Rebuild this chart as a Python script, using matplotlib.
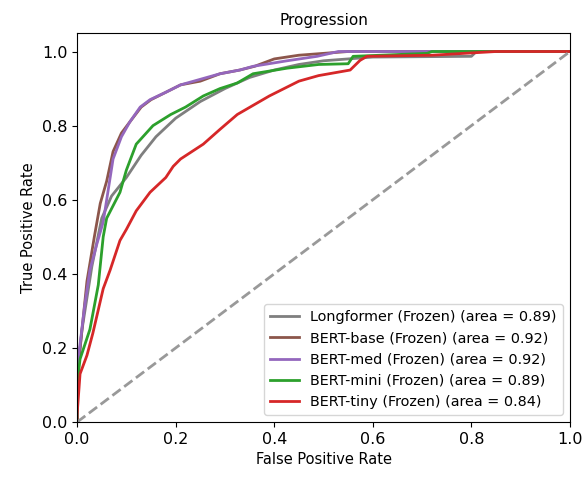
import matplotlib
matplotlib.use("Agg")
import matplotlib.pyplot as plt

# ROC points
longformer_fpr = [0.0, 0.0, 0.01, 0.03, 0.05, 0.07, 0.1, 0.13, 0.16, 0.2, 0.25, 0.3, 0.35, 0.4, 0.45, 0.5, 0.55, 0.6, 0.8, 0.81, 1.0]
longformer_tpr = [0.0, 0.12, 0.25, 0.42, 0.55, 0.61, 0.66, 0.72, 0.77, 0.82, 0.865, 0.90, 0.93, 0.95, 0.965, 0.975, 0.98, 0.985, 0.987, 1.0, 1.0]

base_fpr = [0.0, 0.0, 0.01, 0.02, 0.035, 0.047, 0.06, 0.073, 0.09, 0.107, 0.13, 0.15, 0.18, 0.21, 0.25, 0.29, 0.33, 0.36, 0.4, 0.45, 0.5, 0.55, 1.0]
base_tpr = [0.0, 0.12, 0.25, 0.38, 0.5, 0.59, 0.65, 0.73, 0.78, 0.81, 0.85, 0.87, 0.89, 0.91, 0.92, 0.94, 0.95, 0.96, 0.98, 0.99, 0.995, 1.0, 1.0]

med_fpr = [0.0, 0.0, 0.006, 0.015, 0.026, 0.04, 0.053, 0.073, 0.09, 0.107, 0.128, 0.148, 0.18, 0.21, 0.25, 0.29, 0.33, 0.357, 0.426, 0.487, 0.53, 1.0]
med_tpr = [0.0, 0.15, 0.21, 0.31, 0.41, 0.48, 0.54, 0.71, 0.77, 0.81, 0.85, 0.87, 0.89, 0.91, 0.925, 0.94, 0.95, 0.96, 0.975, 0.987, 1.0, 1.0]

mini_fpr = [0.0, 0.0, 0.006, 0.026, 0.043, 0.053, 0.06, 0.087, 0.1, 0.12, 0.154, 0.19, 0.22, 0.256, 0.29, 0.325, 0.357, 0.426, 0.49, 0.55, 0.56, 0.71, 0.72, 1.0]
mini_tpr = [0.0, 0.1, 0.17, 0.25, 0.37, 0.5, 0.55, 0.62, 0.68, 0.75, 0.80, 0.83, 0.85, 0.88, 0.90, 0.915, 0.94, 0.955, 0.965, 0.967, 0.987, 0.995, 1.0, 1.0]

tiny_fpr = [0.0, 0.0, 0.006, 0.02, 0.032, 0.053, 0.067, 0.087, 0.1, 0.12, 0.148, 0.18, 0.195, 0.21, 0.256, 0.29, 0.325, 0.39, 0.45, 0.49, 0.554, 0.574, 0.588, 0.72, 0.85, 1.0]
tiny_tpr = [0.0, 0.02, 0.13, 0.18, 0.24, 0.36, 0.41, 0.49, 0.52, 0.57, 0.62, 0.66, 0.69, 0.71, 0.75, 0.79, 0.83, 0.88, 0.92, 0.935, 0.95, 0.976, 0.987, 0.99, 1.0, 1.0]

names = ["Longformer (Frozen)", "BERT-base (Frozen)", "BERT-med (Frozen)", "BERT-mini (Frozen)", "BERT-tiny (Frozen)"]
areas = [0.89, 0.92, 0.92, 0.89, 0.84]
colors = ["tab:gray", "tab:brown", "tab:purple", "tab:green", "tab:red"]

curves = [(longformer_fpr, longformer_tpr), (base_fpr, base_tpr), (med_fpr, med_tpr),
          (mini_fpr, mini_tpr), (tiny_fpr, tiny_tpr)]

fig = plt.figure(figsize=(5.84, 4.78), dpi=100)
ax = fig.add_axes([0.132, 0.117, 0.844, 0.814])

for (fpr, tpr), name, area, c in zip(curves, names, areas, colors):
    ax.plot(fpr, tpr, color=c, lw=2, label=f"{name} (area = {area:.2f})")

ax.plot([0, 1], [0, 1], color="#999999", lw=2, linestyle="--")

ax.set_xlim(0.0, 1.0)
ax.set_ylim(0.0, 1.05)
ax.tick_params(labelsize=11.5)
ax.set_xlabel("False Positive Rate", fontsize=10.5)
ax.set_ylabel("True Positive Rate", fontsize=10.5)
ax.set_title("Progression", fontsize=11)
ax.legend(loc="lower right", fontsize=10.4)

fig.savefig("out.png", dpi=100)
